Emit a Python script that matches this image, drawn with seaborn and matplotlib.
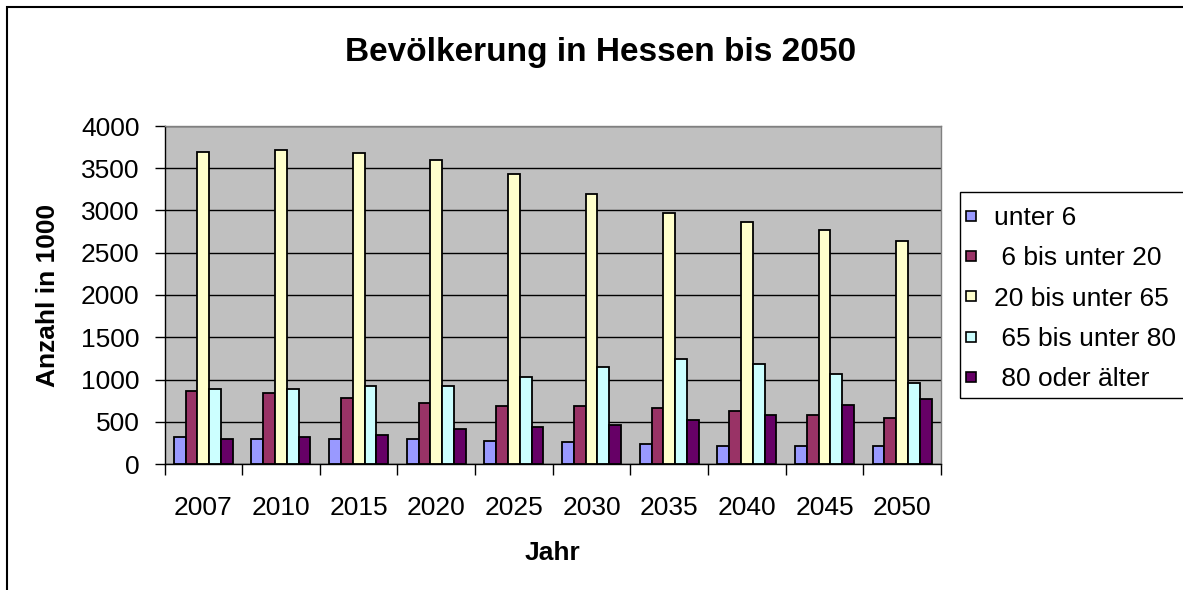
import numpy as np
import pandas as pd
import matplotlib
matplotlib.use("Agg")
import matplotlib.pyplot as plt
import matplotlib.patches as mpatches
from matplotlib.lines import Line2D
import seaborn as sns

years = ["2007", "2010", "2015", "2020", "2025", "2030", "2035", "2040", "2045", "2050"]
groups = ["unter 6", " 6 bis unter 20", "20 bis unter 65", " 65 bis unter 80", " 80 oder älter"]
unter6 = [315, 296, 296, 296, 276, 256, 236, 217, 217, 217]
u6_20 = [863, 839, 780, 721, 686, 686, 662, 622, 583, 540]
u20_65 = [3692, 3715, 3676, 3593, 3436, 3191, 2967, 2864, 2766, 2644]
u65_80 = [883, 883, 926, 926, 1024, 1147, 1245, 1186, 1064, 961]
ue80 = [296, 315, 339, 418, 437, 461, 520, 583, 701, 764]
colors = ["#9999FF", "#993366", "#FFFFCC", "#CCFFFF", "#660066"]

series = [unter6, u6_20, u20_65, u65_80, ue80]
rows = []
for g, vals in zip(groups, series):
    for y, v in zip(years, vals):
        rows.append({"Jahr": y, "Anzahl": v, "Gruppe": g})
df = pd.DataFrame(rows)

sns.set_style("white")
plt.rcParams["font.family"] = ["Liberation Sans", "DejaVu Sans"]
plt.rcParams["text.color"] = "black"
plt.rcParams["axes.labelcolor"] = "black"
plt.rcParams["xtick.color"] = "black"
plt.rcParams["ytick.color"] = "black"

W, H = 1183, 590
fig = plt.figure(figsize=(W / 100, H / 100), dpi=100)
ax = fig.add_axes([164.5 / W, 1 - 464 / H, (941 - 164.5) / W, (464 - 126) / H])

sns.barplot(data=df, x="Jahr", y="Anzahl", hue="Gruppe", order=years, hue_order=groups,
            palette=colors, width=0.76, edgecolor="black", linewidth=1.3,
            saturation=1, ax=ax, errorbar=None, legend=False)

ax.set_facecolor("#C0C0C0")
ax.set_ylim(0, 4000)
ax.set_xlim(-0.5, len(years) - 0.5)
ax.set_yticks(np.arange(0, 4001, 500))
ax.yaxis.grid(True, color="black", linewidth=1)
ax.xaxis.grid(False)
ax.set_axisbelow(True)

ax.set_xticks(np.arange(len(years)))
ax.set_xticklabels(years)
ax.set_xticks(np.arange(-0.5, len(years), 1), minor=True)
ax.tick_params(axis="x", which="major", length=0, pad=23, labelsize=19, labelcolor="black")
ax.tick_params(axis="x", which="minor", length=8, width=1, color="black", direction="out", bottom=True)
ax.tick_params(axis="y", length=7, width=1, color="black", direction="out", left=True, pad=11,
               labelsize=19, labelcolor="black")

for s in ["left", "bottom"]:
    ax.spines[s].set_color("black")
    ax.spines[s].set_linewidth(1)
for s in ["top", "right"]:
    ax.spines[s].set_color("#808080")
    ax.spines[s].set_linewidth(1)

ax.set_xlabel("Jahr", fontsize=19, fontweight="bold", labelpad=15, color="black")
ax.set_ylabel("Anzahl in 1000", fontsize=19, fontweight="bold", labelpad=15, color="black")

fig.text(601 / W, 1 - 52 / H, "Bevölkerung in Hessen bis 2050", ha="center", va="center",
         fontsize=24, fontweight="bold", color="black")

handles = [Line2D([], [], linestyle="none", marker="s", markersize=7,
                  markerfacecolor=c, markeredgecolor="black", markeredgewidth=1.2)
           for c in colors]
leg = fig.legend(handles, groups, loc="upper left",
                 bbox_to_anchor=(963 / W, 1 - 206 / H), frameon=False,
                 fontsize=19, borderaxespad=0, borderpad=0,
                 labelspacing=0.62, handlelength=0.6, handletextpad=0.56)

frame = mpatches.Rectangle((960 / W, 1 - 398 / H), 300 / W, (398 - 192) / H,
                           transform=fig.transFigure, fill=False, edgecolor="black",
                           linewidth=1, clip_on=False)
fig.patches.append(frame)

border = mpatches.Rectangle((7 / W, -0.1), 1.2, 1 - 7 / H + 0.1, transform=fig.transFigure,
                            fill=False, edgecolor="black", linewidth=1.5, clip_on=False)
fig.patches.append(border)

fig.savefig("out.png", dpi=100, facecolor="white")
